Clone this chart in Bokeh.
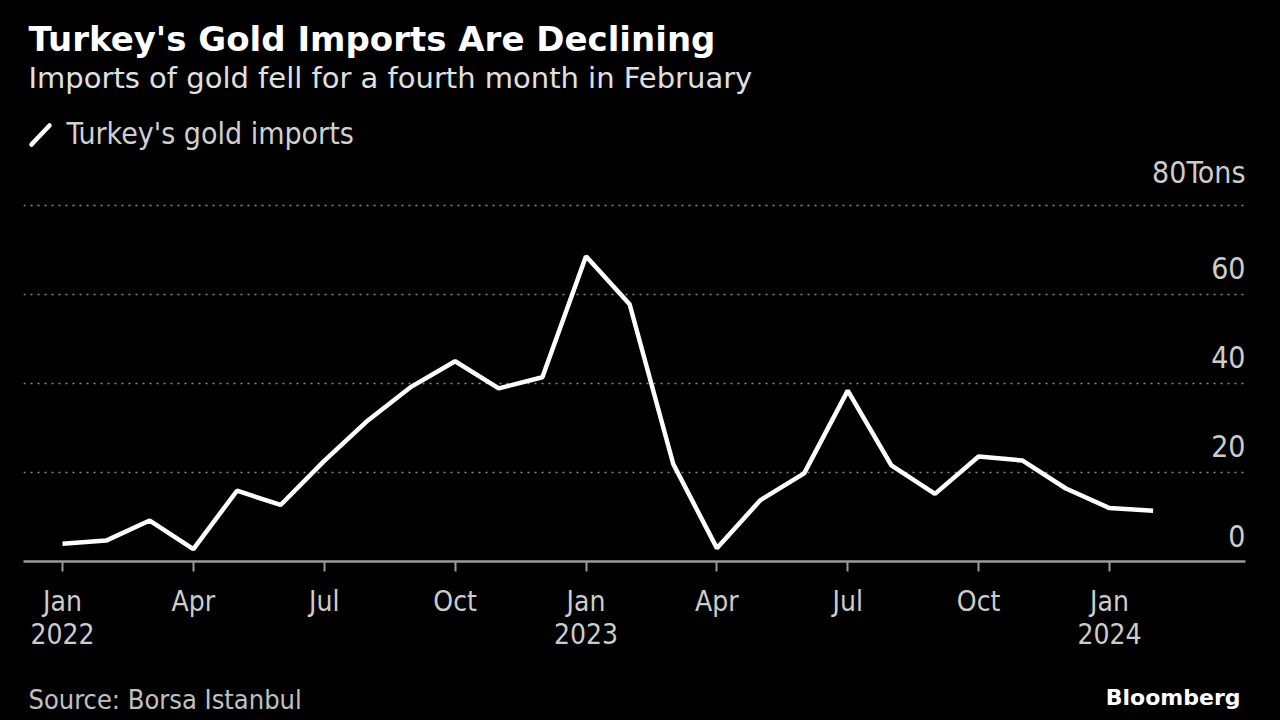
from bokeh.plotting import figure
from bokeh.layouts import column
from bokeh.models import Range1d, FixedTicker, Label, ColumnDataSource
from bokeh.core.properties import value
from bokeh.embed import file_html
from bokeh.resources import INLINE

# ---- data ----
months = ["Jan 2022", "Feb 2022", "Mar 2022", "Apr 2022", "May 2022", "Jun 2022",
          "Jul 2022", "Aug 2022", "Sep 2022", "Oct 2022", "Nov 2022", "Dec 2022",
          "Jan 2023", "Feb 2023", "Mar 2023", "Apr 2023", "May 2023", "Jun 2023",
          "Jul 2023", "Aug 2023", "Sep 2023", "Oct 2023", "Nov 2023", "Dec 2023",
          "Jan 2024", "Feb 2024"]
imports_tons = [4.0, 4.7, 9.2, 2.8, 15.9, 12.7, 22.6, 31.7, 39.3, 45.0, 38.9, 41.4,
                68.6, 57.8, 21.9, 3.0, 13.8, 19.8, 38.4, 21.6, 15.2, 23.6, 22.7, 16.4,
                12.0, 11.4]
x_tick_months = ["Jan 2022", "Apr 2022", "Jul 2022", "Oct 2022", "Jan 2023",
                 "Apr 2023", "Jul 2023", "Oct 2023", "Jan 2024"]
x_tick_labels = ["Jan\n2022", "Apr", "Jul", "Oct", "Jan\n2023", "Apr", "Jul", "Oct", "Jan\n2024"]
y_ticks = [0, 20, 40, 60, 80]
y_tick_labels = ["0", "20", "40", "60", "80Tons"]

title_text = "Turkey's Gold Imports Are Declining"
subtitle_text = "Imports of gold fell for a fourth month in February"
legend_text = "Turkey's gold imports"
source_text = "Source: Borsa Istanbul"
brand_text = "Bloomberg"

FONT = "DejaVu Sans Condensed"
FONT_WIDE = "DejaVu Sans"

# ---- layout (pixel constants) ----
W = 1264
H_TOTAL = 716
H_MAIN = 670
H_FOOT = H_TOTAL - H_MAIN
FRAME_L, FRAME_R, FRAME_B = 23, 1245, 561
FIRST_MONTH_PX = 62
PX_PER_MONTH = 43.625
PX_PER_UNIT = 4.4506

X0 = (FRAME_L - FIRST_MONTH_PX) / PX_PER_MONTH
X1 = (FRAME_R - FIRST_MONTH_PX) / PX_PER_MONTH
Y0 = 0
Y1 = FRAME_B / PX_PER_UNIT

def dx(px):
    return (px - FIRST_MONTH_PX) / PX_PER_MONTH

def dy(py):
    return (FRAME_B - py) / PX_PER_UNIT

xs = list(range(len(months)))

p = figure(width=W, height=H_MAIN, output_backend="svg", toolbar_location=None,
           x_range=Range1d(X0, X1), y_range=Range1d(Y0, Y1),
           y_axis_location=None, min_border_left=FRAME_L,
           min_border_right=W - FRAME_R, min_border_top=0,
           min_border_bottom=H_MAIN - FRAME_B)
p.background_fill_color = "black"
p.border_fill_color = "black"
p.outline_line_color = "black"

# grid
p.xgrid.visible = False
p.ygrid.ticker = FixedTicker(ticks=[t for t in y_ticks if t > 0])
p.ygrid.grid_line_color = "#8a8a8a"
p.ygrid.grid_line_dash = "2 5"
p.ygrid.grid_line_width = 1.5

# x axis
tick_pos = [months.index(m) for m in x_tick_months]
ax = p.xaxis[0]
ax.ticker = FixedTicker(ticks=tick_pos)
ax.major_label_overrides = {t: l for t, l in zip(tick_pos, x_tick_labels)}
ax.minor_tick_line_color = None
ax.axis_line_color = "#9a9a9a"
ax.axis_line_width = 2.5
ax.major_tick_line_color = "#9a9a9a"
ax.major_tick_line_width = 2
ax.major_tick_in = 0
ax.major_tick_out = 10
ax.major_label_standoff = 13
ax.major_label_text_font = FONT
ax.major_label_text_font_size = "28px"
ax.major_label_text_color = "#cccccc"
ax.major_label_text_line_height = 1.0

# data line
p.line(xs, imports_tons, line_color="white", line_width=4.5)

# y labels (sit above their grid lines, right aligned)
ysrc = ColumnDataSource(dict(x=[X1] * len(y_ticks),
                             y=[t + 15 / PX_PER_UNIT for t in y_ticks],
                             text=y_tick_labels))
p.text(x="x", y="y", text="text", source=ysrc, text_align="right",
       text_baseline="bottom", text_font=value(FONT), text_font_size="30px",
       text_color="#cccccc")

def lab(fig, x, y, txt, font, size, color, style="normal", align="left"):
    fig.add_layout(Label(x=x, y=y, text=txt, text_font=font,
                         text_font_size=size, text_color=color,
                         text_font_style=style, text_align=align,
                         text_baseline="middle"))

lab(p, dx(28), dy(38), title_text, FONT_WIDE, "34px", "white", "bold")
lab(p, dx(28), dy(77), subtitle_text, FONT_WIDE, "29px", "#e0e0e0")
lab(p, dx(66), dy(133), legend_text, FONT, "30px", "#d0d0d0")

# legend swatch
p.segment(x0=[dx(31)], y0=[dy(144)], x1=[dx(49)], y1=[dy(125)],
          line_color="white", line_width=4.5, line_cap="round")

# ---- footer ----
f = figure(width=W, height=H_FOOT, output_backend="svg", toolbar_location=None,
           x_range=Range1d(FRAME_L, FRAME_R), y_range=Range1d(H_TOTAL, H_MAIN),
           x_axis_location=None, y_axis_location=None,
           min_border_left=FRAME_L, min_border_right=W - FRAME_R,
           min_border_top=0, min_border_bottom=0)
f.background_fill_color = "black"
f.border_fill_color = "black"
f.outline_line_color = "black"
f.grid.visible = False
lab(f, 28, 699, source_text, FONT, "27px", "#c0c0c0")
lab(f, 1240, 697, brand_text, FONT_WIDE, "22px", "white", "bold", "right")

layout = column(p, f, spacing=0)
html = file_html(layout, INLINE)
html = html.replace("<head>", "<head><style>html,body{background:#000;}</style>", 1)
open("out.html", "w").write(html)
